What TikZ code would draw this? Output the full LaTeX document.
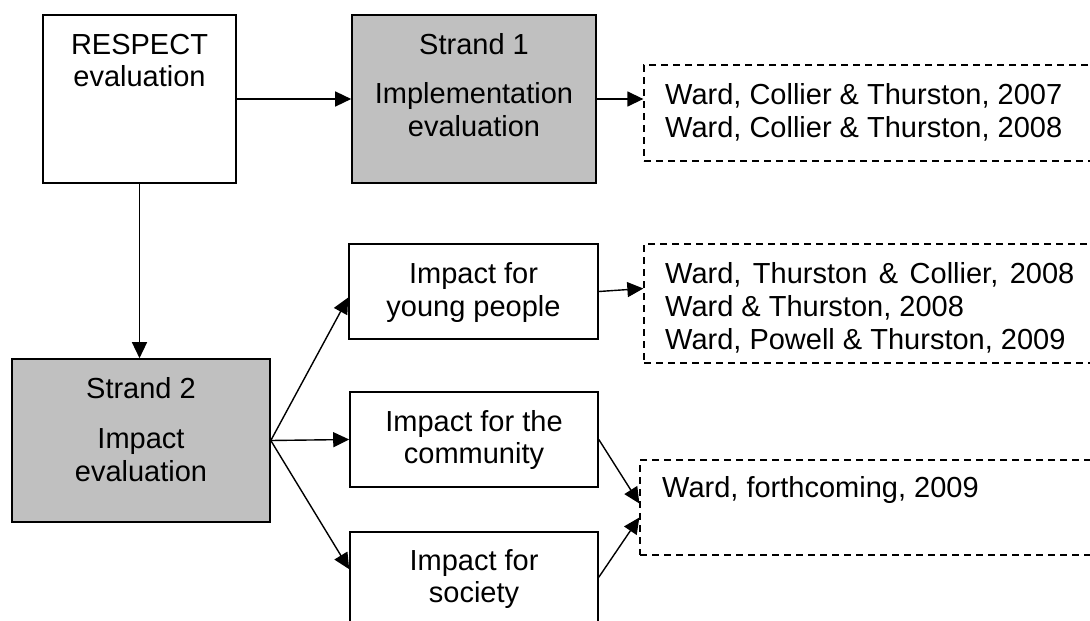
\documentclass[tikz,border=0pt]{standalone}
\usepackage{fontspec}
\setmainfont{Liberation Sans}
\usetikzlibrary{arrows.meta,calc}
\definecolor{strandgray}{RGB}{192,192,192}

\begin{document}
\begin{tikzpicture}
[x=1pt,y=-1pt,
 box/.style={rectangle,draw=black,line width=1.6pt,inner sep=0pt},
 strandbox/.style={box,fill=strandgray},
 citebox/.style={rectangle,draw=black,line width=1.3pt,dash pattern=on 7pt off 5pt,inner sep=0pt},
 txt/.style={inner sep=0pt,anchor=base,font=\fontsize{29}{33}\selectfont},
 ltxt/.style={txt,anchor=base west},
 arr/.style={line width=1.4pt,-{Triangle[length=16pt,width=15pt]}}]

\clip (0,0) rectangle (1090,621);

% boxes
\node[box,minimum width=193pt,minimum height=168pt] (respect) at (139.5,99) {};
\node[strandbox,minimum width=244pt,minimum height=168pt] (strand1) at (474,99) {};
\node[citebox,minimum width=456pt,minimum height=96pt] (cites1) at (872,113) {};
\node[box,minimum width=249pt,minimum height=95pt] (young) at (473.5,291.5) {};
\node[citebox,minimum width=456pt,minimum height=119pt] (cites2) at (872,303.5) {};
\node[strandbox,minimum width=258pt,minimum height=163pt] (strand2) at (141,440.5) {};
\node[box,minimum width=248pt,minimum height=95pt] (community) at (474,439.5) {};
\node[citebox,minimum width=460pt,minimum height=95pt] (cites3) at (870,507.5) {};
\node[box,minimum width=248pt,minimum height=108pt] (society) at (474,586) {};

% texts
\node[txt] (respect1) at (139.5,54) {RESPECT};
\node[txt] (respect2) at (139.5,86) {evaluation};
\node[txt] (strand1a) at (474,54) {Strand 1};
\node[txt] (strand1b) at (474,103) {Implementation};
\node[txt] (strand1c) at (474,136) {evaluation};
\node[ltxt] (cites1a) at (665,104) {Ward, Collier \& Thurston, 2007};
\node[ltxt] (cites1b) at (665,137) {Ward, Collier \& Thurston, 2008};
\node[txt] (young1) at (473.5,283) {Impact for};
\node[txt] (young2) at (473.5,316) {young people};
\node[ltxt] (cites2a) at (665,283) {\spaceskip=11.5pt Ward, Thurston \& Collier, 2008};
\node[ltxt] (cites2b) at (665,316) {Ward \& Thurston, 2008};
\node[ltxt] (cites2c) at (665,349) {Ward, Powell \& Thurston, 2009};
\node[txt] (strand2a) at (141,398) {Strand 2};
\node[txt] (strand2b) at (141,448) {Impact};
\node[txt] (strand2c) at (141,481) {evaluation};
\node[txt] (community1) at (474,431) {Impact for the};
\node[txt] (community2) at (474,463) {community};
\node[txt] (society1) at (474,570) {Impact for};
\node[txt] (society2) at (474,602) {society};
\node[ltxt] (cites3a) at (662,497) {Ward, forthcoming, 2009};

% arrow ends
\coordinate (c1in) at (strand1.east -| cites1.west);
\coordinate (s2in) at (respect.south |- strand2.north);
\coordinate (yin) at ($(young.west)+(0,6)$);
\coordinate (sin) at ($(society.north west)+(0,38)$);
\coordinate (c2in) at ($(young.east -| cites2.west)+(0,-3)$);
\coordinate (sout) at ($(society.north east)+(0,46)$);
\coordinate (c3a) at ($(cites3.west)+(0,-4)$);
\coordinate (c3b) at ($(cites3.west)+(0,10)$);

\foreach \from/\to in {respect.east/strand1.west,strand1.east/c1in,respect.south/s2in,strand2.east/yin,strand2.east/community.west,strand2.east/sin,young.east/c2in,community.east/c3a,sout/c3b}
\draw[arr] (\from) -- (\to);
\end{tikzpicture}
\end{document}
